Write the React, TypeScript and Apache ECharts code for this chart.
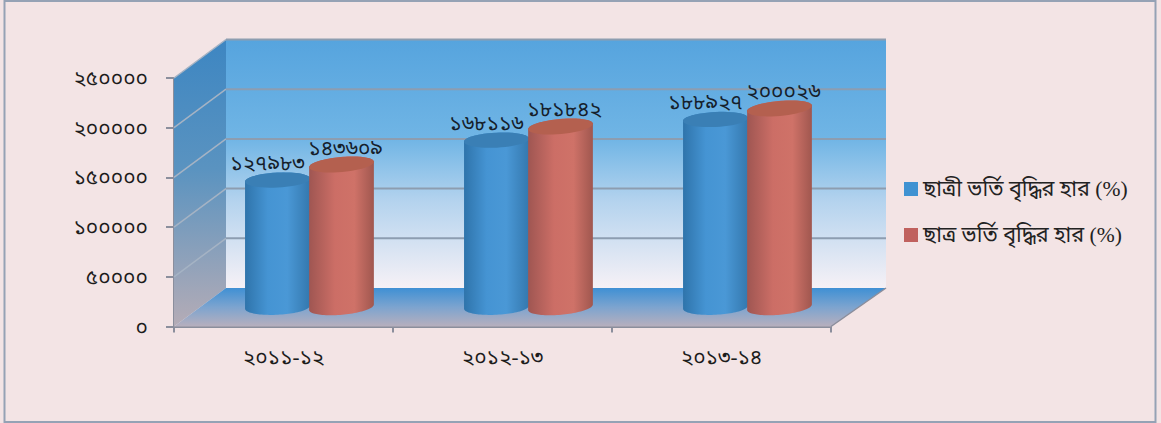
import React, { useEffect, useRef } from "react";
import * as echarts from "echarts";

// Enrolment figures per academic year
const categories = ["২০১১-১২", "২০১২-১৩", "২০১৩-১৪"];
const femaleValues = [127983, 168116, 188927];
const maleValues = [143609, 181842, 200026];
const femaleName = "ছাত্রী ভর্তি বৃদ্ধির হার (%)";
const maleName = "ছাত্র ভর্তি বৃদ্ধির হার (%)";
const yTicks = [0, 50000, 100000, 150000, 200000, 250000];

const BN_DIGITS = "০১২৩৪৫৬৭৮৯";
const toBengali = (v: number) =>
  String(v).replace(/\d/g, (d) => BN_DIGITS[Number(d)]);

const FONT = "'Liberation Serif','Noto Sans Bengali','Noto Serif Bengali','Lohit Bengali','Noto Sans',serif";
const FONT_SIZE = 21;

// Depth of the pseudo-3D box, in pixels
const DEPTH_X = 52;
const DEPTH_X_RIGHT = 55;
const DEPTH_Y = -38.5;
const CYL_RX = 32.5;
const CYL_RY = 7.5;

function vGrad(stops: [number, string][]) {
  return new echarts.graphic.LinearGradient(
    0, 0, 0, 1,
    stops.map(([offset, color]) => ({ offset, color }))
  );
}

function hGrad(stops: [number, string][]) {
  return new echarts.graphic.LinearGradient(
    0, 0, 1, 0,
    stops.map(([offset, color]) => ({ offset, color }))
  );
}

// Back wall, side wall, floor and the gridlines that run across them
function renderBox(params: any, api: any) {
  const bottom = api.coord([0, 0])[1];
  const top = api.coord([0, 250000])[1];
  const cs = params.coordSys;
  const left = cs.x;
  const right = cs.x + cs.width;
  const backL = left + DEPTH_X;
  const backR = right + DEPTH_X_RIGHT;
  const children: any[] = [
    {
      type: "polygon",
      shape: {
        points: [
          [backL, top + DEPTH_Y],
          [backR, top + DEPTH_Y],
          [backR, bottom + DEPTH_Y],
          [backL, bottom + DEPTH_Y],
        ],
      },
      style: {
        fill: vGrad([
          [0, "#56a4de"],
          [0.4, "#70b5e5"],
          [0.65, "#b4d3ee"],
          [1, "#f6f1f6"],
        ]),
      },
    },
    {
      type: "polygon",
      shape: {
        points: [
          [left, top],
          [backL, top + DEPTH_Y],
          [backL, bottom + DEPTH_Y],
          [left, bottom],
        ],
      },
      style: {
        fill: vGrad([
          [0, "#3d86c2"],
          [0.45, "#5a93c0"],
          [1, "#b5acb6"],
        ]),
      },
    },
    {
      type: "polygon",
      shape: {
        points: [
          [backL, bottom + DEPTH_Y],
          [backR, bottom + DEPTH_Y],
          [right, bottom],
          [left, bottom],
        ],
      },
      style: {
        fill: vGrad([
          [0, "#3f90d4"],
          [0.5, "#7da4cf"],
          [1, "#b7afbd"],
        ]),
      },
    },
  ];
  yTicks.forEach((tick) => {
    if (tick === 0) return;
    const y = api.coord([0, tick])[1];
    children.push({
      type: "line",
      shape: { x1: left, y1: y, x2: backL, y2: y + DEPTH_Y },
      style: { stroke: "#a5b3c4", lineWidth: 1.5 },
    });
    children.push({
      type: "line",
      shape: { x1: backL, y1: y + DEPTH_Y, x2: backR, y2: y + DEPTH_Y },
      style: { stroke: "#8d9db0", lineWidth: 2 },
    });
  });
  // Slanted edge closing the floor on the right
  children.push({
    type: "line",
    shape: { x1: right, y1: bottom, x2: backR, y2: bottom + DEPTH_Y },
    style: { stroke: "#8b8e9c", lineWidth: 1.5 },
  });
  return { type: "group", children };
}

function ellipsePoints(cx: number, cy: number, rot: number, from = 0, to = Math.PI * 2) {
  const pts: number[][] = [];
  const n = 48;
  const c = Math.cos(rot);
  const s = Math.sin(rot);
  for (let i = 0; i <= n; i++) {
    const a = from + ((to - from) * i) / n;
    const ex = CYL_RX * Math.cos(a);
    const ey = CYL_RY * Math.sin(a);
    pts.push([cx + ex * c - ey * s, cy + ex * s + ey * c]);
  }
  return pts;
}

type CylStyle = {
  dx: number;
  labelDx: number;
  rot: number;
  body: [number, string][];
  cap: string;
};

// One cylinder sitting halfway into the box, plus its value label
function cylinderRenderer(style: CylStyle) {
  return (_params: any, api: any) => {
    const i = api.value(0);
    const v = api.value(1);
    const base = api.coord([i, 0]);
    const head = api.coord([i, v]);
    const cx = base[0] + DEPTH_X / 2 + style.dx;
    const by = base[1] + DEPTH_Y / 2;
    const ty = head[1] + DEPTH_Y / 2;
    const lower = ellipsePoints(cx, by, style.rot, 0, Math.PI);
    const upper = ellipsePoints(cx, ty, style.rot, Math.PI, Math.PI * 2);
    return {
      type: "group",
      children: [
        {
          type: "polygon",
          shape: { points: [...upper, ...lower] },
          style: { fill: hGrad(style.body) },
        },
        {
          type: "polygon",
          shape: { points: ellipsePoints(cx, ty, style.rot) },
          style: { fill: style.cap },
        },
        {
          type: "text",
          style: {
            text: toBengali(v),
            x: cx + style.labelDx,
            y: ty - 17,
            align: "center",
            verticalAlign: "middle",
            font: `${FONT_SIZE}px ${FONT}`,
            fill: "#15202b",
          },
        },
      ],
    };
  };
}

const blueCyl: CylStyle = {
  dx: -32,
  labelDx: -10,
  rot: -0.05,
  body: [
    [0, "#2f74ab"],
    [0.35, "#4594d3"],
    [0.65, "#4a98d6"],
    [1, "#3478ae"],
  ],
  cap: "#3a7fb5",
};

const redCyl: CylStyle = {
  dx: 32,
  labelDx: 4,
  rot: -0.09,
  body: [
    [0, "#9f5652"],
    [0.4, "#cc6e66"],
    [0.7, "#cf7268"],
    [1, "#a0574f"],
  ],
  cap: "#b4604f",
};

export default function App() {
  const ref = useRef<HTMLDivElement>(null);

  useEffect(() => {
    document.body.style.margin = "0";
    const chart = echarts.init(ref.current!, undefined, { renderer: "svg" });
    const axisLine = { lineStyle: { color: "#8b8e9c", width: 2 } };
    chart.setOption({
      animation: false,
      backgroundColor: "#f3e4e5",
      grid: { left: 174, top: 78, width: 657, height: 248.5 },
      legend: {
        orient: "vertical",
        left: 899,
        top: 173,
        itemWidth: 14,
        itemHeight: 14,
        itemGap: 24,
        itemStyle: { borderWidth: 0 },
        icon: "rect",
        data: [femaleName, maleName],
        textStyle: { fontFamily: FONT, fontSize: 21.6, color: "#222" },
      },
      xAxis: {
        type: "category",
        data: categories,
        axisLine,
        axisTick: { show: true, length: 6, alignWithLabel: false, lineStyle: axisLine.lineStyle },
        axisLabel: { margin: 20, fontFamily: FONT, fontSize: FONT_SIZE, color: "#1c1c1c" },
        splitLine: { show: false },
      },
      yAxis: {
        type: "value",
        min: 0,
        max: 250000,
        interval: 50000,
        axisLine: { show: true, ...axisLine },
        axisTick: { show: true, length: 8, lineStyle: axisLine.lineStyle },
        axisLabel: {
          margin: 26,
          fontFamily: FONT,
          fontSize: FONT_SIZE,
          color: "#1c1c1c",
          formatter: (v: number) => toBengali(v),
        },
        splitLine: { show: false },
      },
      series: [
        {
          name: "box",
          type: "custom",
          z: 1,
          silent: true,
          clip: false,
          data: [[0, 0]],
          renderItem: renderBox,
        },
        {
          name: femaleName,
          type: "custom",
          z: 3,
          clip: false,
          itemStyle: { color: "#3f92d2" },
          data: femaleValues.map((v, i) => [i, v]),
          renderItem: cylinderRenderer(blueCyl),
        },
        {
          name: maleName,
          type: "custom",
          z: 4,
          clip: false,
          itemStyle: { color: "#c0615e" },
          data: maleValues.map((v, i) => [i, v]),
          renderItem: cylinderRenderer(redCyl),
        },
      ],
      graphic: [
        {
          type: "rect",
          silent: true,
          z: 100,
          shape: { x: 4.5, y: 1, width: 1151, height: 421 },
          style: { fill: "none", stroke: "#95a2b5", lineWidth: 2 },
        },
      ],
    });
    return () => chart.dispose();
  }, []);

  return <div ref={ref} style={{ width: 1161, height: 423 }} />;
}
